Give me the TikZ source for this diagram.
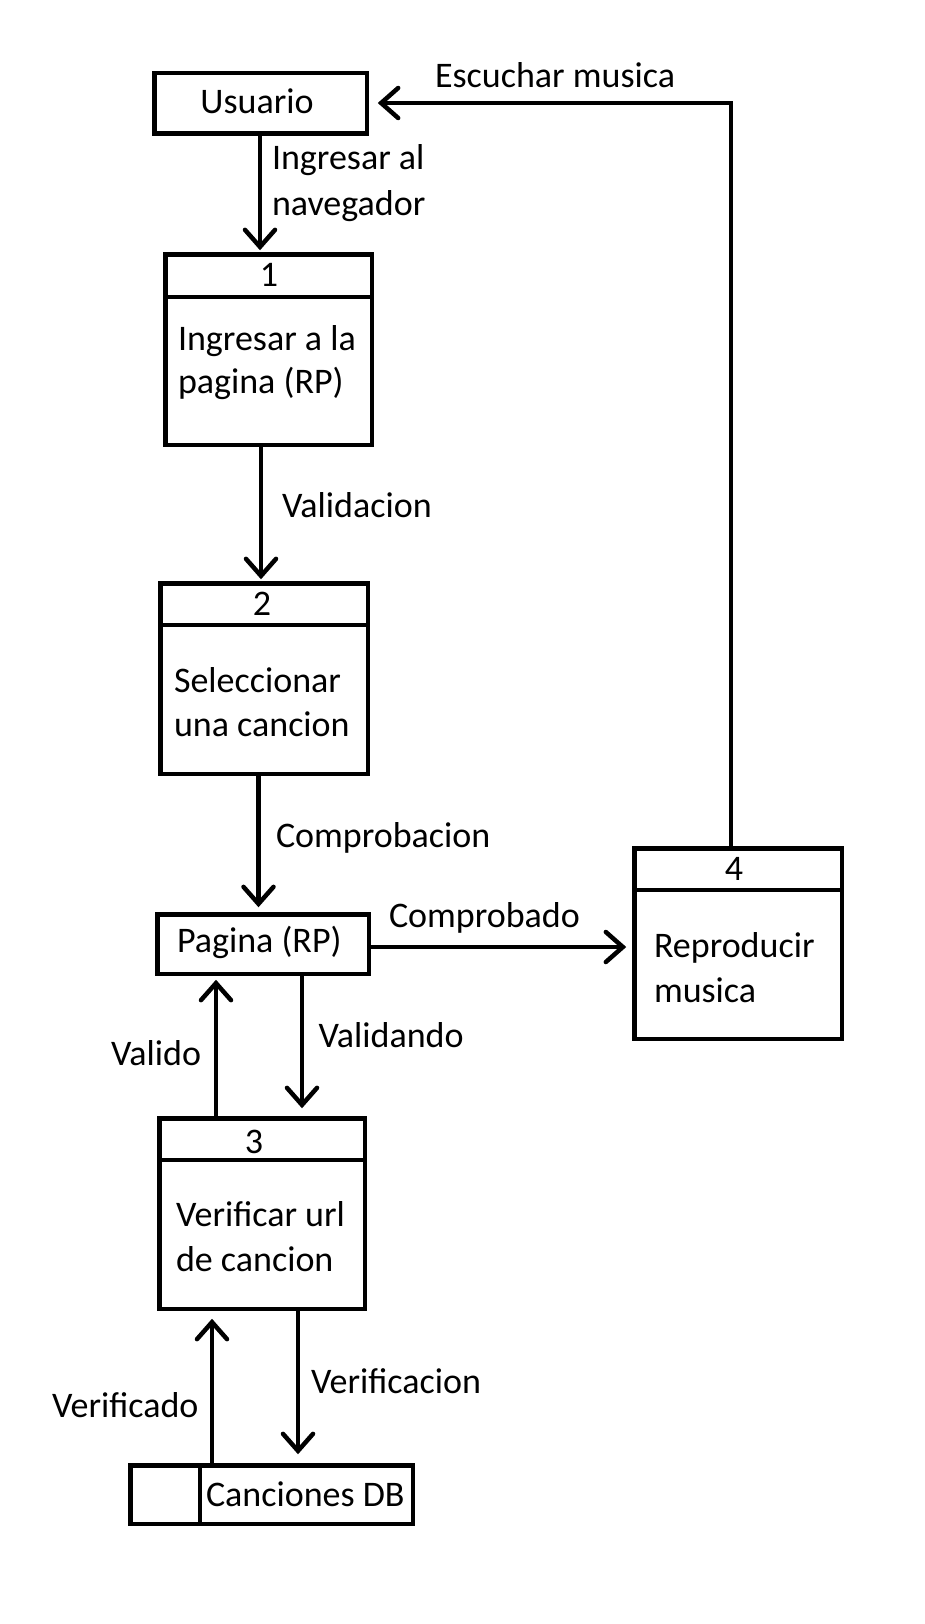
\documentclass[tikz,border=0pt]{standalone}
\usepackage{fontspec}
\setmainfont{Carlito}
\usetikzlibrary{arrows.meta}
\begin{document}
\begin{tikzpicture}[x=1pt,y=-1pt,
  lw/.style={line width=4.5pt},
  box/.style={draw,lw,inner sep=0pt,outer sep=0pt},
  txt/.style={inner sep=0pt,outer sep=0pt,font=\fontsize{36pt}{44pt}\selectfont},
  lbl/.style={txt,anchor=base west},
  num/.style={txt,anchor=base},
  flow/.style={lw,-{Straight Barb[length=17pt,width=30pt,line cap=round]}}
]
\useasboundingbox[fill=white] (0,0) rectangle (924,1624);

% boxes
\node[box,minimum width=212.5pt,minimum height=60.5pt] (u) at (260.5,103.5) {};
\node[box,minimum width=206.5pt,minimum height=190.5pt] (b1) at (268.5,349.5) {};
\node[box,minimum width=207.5pt,minimum height=190.5pt] (b2) at (264,678.5) {};
\node[box,minimum width=211.5pt,minimum height=59.5pt] (p) at (263,944) {};
\node[box,minimum width=207.5pt,minimum height=190.5pt] (b4) at (738,943.5) {};
\node[box,minimum width=205.5pt,minimum height=190.5pt] (b3) at (262,1213.5) {};
\node[box,minimum width=282.5pt,minimum height=58.5pt] (db) at (271.5,1494.5) {};

% dividers
\draw[lw] (b1.west |- 0,297) -- (b1.east |- 0,297);
\draw[lw] (b2.west |- 0,625) -- (b2.east |- 0,625);
\draw[lw] (b4.west |- 0,890) -- (b4.east |- 0,890);
\draw[lw] (b3.west |- 0,1160) -- (b3.east |- 0,1160);
\draw[lw] (db.north -| 200,0) -- (db.south -| 200,0);

% texts in boxes
\node[num] (ut) at (257,114) {Usuario};
\node[num] (n1) at (269,286) {1};
\node[lbl] (b1a) at (178,350) {Ingresar a la};
\node[lbl] (b1b) at (178,393) {pagina (RP)};
\node[num] (n2) at (262,615) {2};
\node[lbl] (b2a) at (174,692) {Seleccionar};
\node[lbl] (b2b) at (174,736) {una cancion};
\node[lbl] (pt) at (177,952) {Pagina (RP)};
\node[num] (n4) at (734,880) {4};
\node[lbl] (b4a) at (654,957) {Reproducir};
\node[lbl] (b4b) at (654,1002) {musica};
\node[num] (n3) at (254,1153) {3};
\node[lbl] (b3a) at (176,1226) {Verificar url};
\node[lbl] (b3b) at (176,1271) {de cancion};
\node[lbl] (dbt) at (206,1506) {Canciones DB};

% connector labels
\node[lbl] (l0) at (435,88) {Escuchar musica};
\node[lbl] (l1a) at (272,170) {Ingresar al};
\node[lbl] (l1b) at (272,215) {navegador};
\node[lbl] (l2) at (282,517) {Validacion};
\node[lbl] (l3) at (276,847) {Comprobacion};
\node[lbl] (l4) at (389,927) {Comprobado};
\node[lbl] (l5) at (318.5,1047) {Validando};
\node[lbl] (l6) at (111,1065) {Valido};
\node[lbl] (l7) at (311,1393) {Verificacion};
\node[lbl] (l8) at (52,1417) {Verificado};

% connectors
\draw[flow,shorten >=4pt] (u.south -| 260,0) -- (b1.north -| 260,0);
\draw[flow,shorten >=4pt] (b1.south -| 261,0) -- (b2.north -| 261,0);
\draw[flow,shorten >=7pt] (b2.south -| 258.5,0) -- (p.north -| 258.5,0);
\draw[flow,shorten >=8pt] (p.east |- 0,947) -- (b4.west |- 0,947);
\draw[flow,shorten >=10pt] (p.south -| 302,0) -- (b3.north -| 302,0);
\draw[flow,shorten >=6pt] (b3.north -| 216,0) -- (p.south -| 216,0);
\draw[flow,shorten >=11pt] (b3.south -| 298,0) -- (db.north -| 298,0);
\draw[flow,shorten >=10pt] (db.north -| 212,0) -- (b3.south -| 212,0);
\draw[flow,shorten >=11pt] (b4.north -| 731,0) |- (u.east |- 0,103);
\end{tikzpicture}
\end{document}
